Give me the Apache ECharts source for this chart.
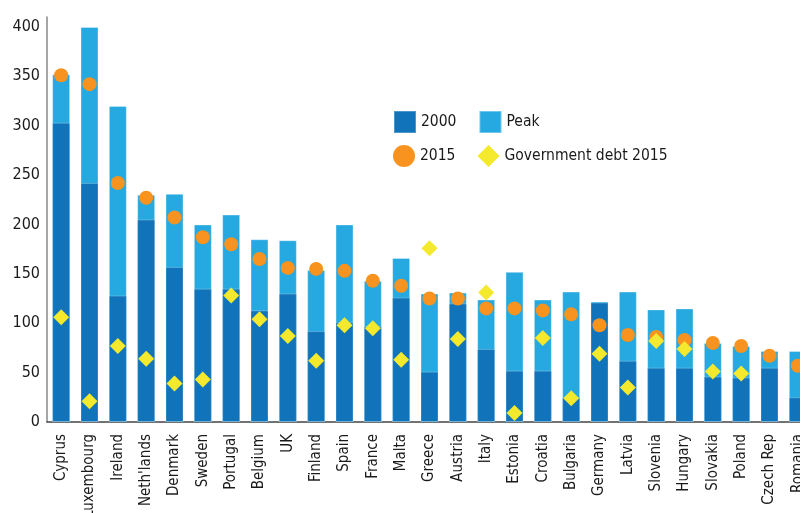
<!DOCTYPE html>
<html>
<head>
<meta charset="utf-8">
<script src="https://cdn.jsdelivr.net/npm/echarts@6/dist/echarts.min.js"></script>
<style>
html,body{margin:0;padding:0;background:#fff;overflow:hidden;width:800px;height:513px;}
#chart{width:812px;height:530px;}
</style>
</head>
<body>
<div id="chart"></div>
<script>
const countries = ['Cyprus','Luxembourg','Ireland',"Neth'lands",'Denmark','Sweden','Portugal','Belgium','UK','Finland','Spain','France','Malta','Greece','Austria','Italy','Estonia','Croatia','Bulgaria','Germany','Latvia','Slovenia','Hungary','Slovakia','Poland','Czech Rep','Romania'];
const values2000 = [303, 242, 128, 205, 157, 135, 135, 113, 130, 92, 101, 97, 126, 51, 120, 74, 52, 52, 25, 121, 62, 55, 55, 46, 45, 55, 25];
const valuesPeak = [352, 400, 320, 230, 231, 200, 210, 185, 184, 154, 200, 143, 166, 130, 131, 124, 152, 124, 132, 122, 132, 114, 115, 80, 77, 72, 72];
const values2015 = [351, 342, 242, 227, 207, 187, 180, 165, 156, 155, 153, 143, 138, 125, 125, 115, 115, 113, 109, 98, 88, 86, 83, 80, 77, 67, 57];
const govDebt2015 = [106, 21, 77, 64, 39, 43, 128, 104, 87, 62, 98, 95, 63, 176, 84, 131, 9, 85, 24, 69, 35, 82, 74, 51, 49, null, null];
const yTicks = [0, 50, 100, 150, 200, 250, 300, 350, 400];

const FONT = "'DejaVu Sans Condensed', 'Liberation Sans', Arial, sans-serif";
const chart = echarts.init(document.getElementById('chart'), null, {renderer: 'canvas'});
const legendText = {fontFamily: FONT, fontSize: 15.5, color: '#1a1a1a'};
chart.setOption({
  animation: false,
  backgroundColor: '#fff',
  textStyle: {fontFamily: FONT},
  grid: {left: 47, right: 0, top: 17, bottom: 108, containLabel: false, outerBoundsMode: 'none'},
  legend: [
    {data: [{name: '2000', icon: 'rect'}, {name: 'Peak', icon: 'rect'}], left: 393, top: 110, itemWidth: 22, itemHeight: 22, itemGap: 22, orient: 'horizontal', textStyle: legendText, padding: 0},
    {data: [{name: '2015', icon: 'circle'}, {name: 'Government debt 2015', icon: 'diamond'}], left: 393, top: 145, itemWidth: 22, itemHeight: 22, itemGap: 22, orient: 'horizontal', textStyle: legendText, padding: 0}
  ],
  xAxis: {
    type: 'category',
    data: countries,
    axisTick: {show: false},
    axisLine: {lineStyle: {color: '#444', width: 1.5}},
    axisLabel: {rotate: 90, interval: 0, margin: 12, fontSize: 15, color: '#1a1a1a', fontFamily: FONT}
  },
  yAxis: {
    type: 'value',
    min: 0, max: 410, interval: 50,
    splitLine: {show: false},
    axisTick: {show: false},
    axisLine: {show: true, lineStyle: {color: '#888', width: 1.5}},
    axisLabel: {
      fontSize: 16, color: '#1a1a1a', margin: 7, fontFamily: FONT,
      formatter: function (v) { return yTicks.indexOf(v) >= 0 ? String(v) : ''; }
    }
  },
  series: [
    {
      name: 'Peak', type: 'bar', data: valuesPeak, barWidth: 18, barGap: '-100%', z: 2,
      itemStyle: {color: '#26a8e0', borderColor: 'rgba(255,255,255,0.35)', borderWidth: 1}
    },
    {
      name: '2000', type: 'bar', data: values2000, barWidth: 18, barGap: '-100%', z: 3,
      itemStyle: {color: '#1174ba', borderColor: 'rgba(255,255,255,0.25)', borderWidth: 1}
    },
    {
      name: '2015', type: 'scatter', data: values2015, symbol: 'circle', symbolSize: 14, z: 4,
      itemStyle: {color: '#f7931e', opacity: 1}
    },
    {
      name: 'Government debt 2015', type: 'scatter', data: govDebt2015, symbol: 'diamond', symbolSize: 16, z: 5,
      itemStyle: {color: '#f4e92d', opacity: 1}
    }
  ]
});
</script>
</body>
</html>
